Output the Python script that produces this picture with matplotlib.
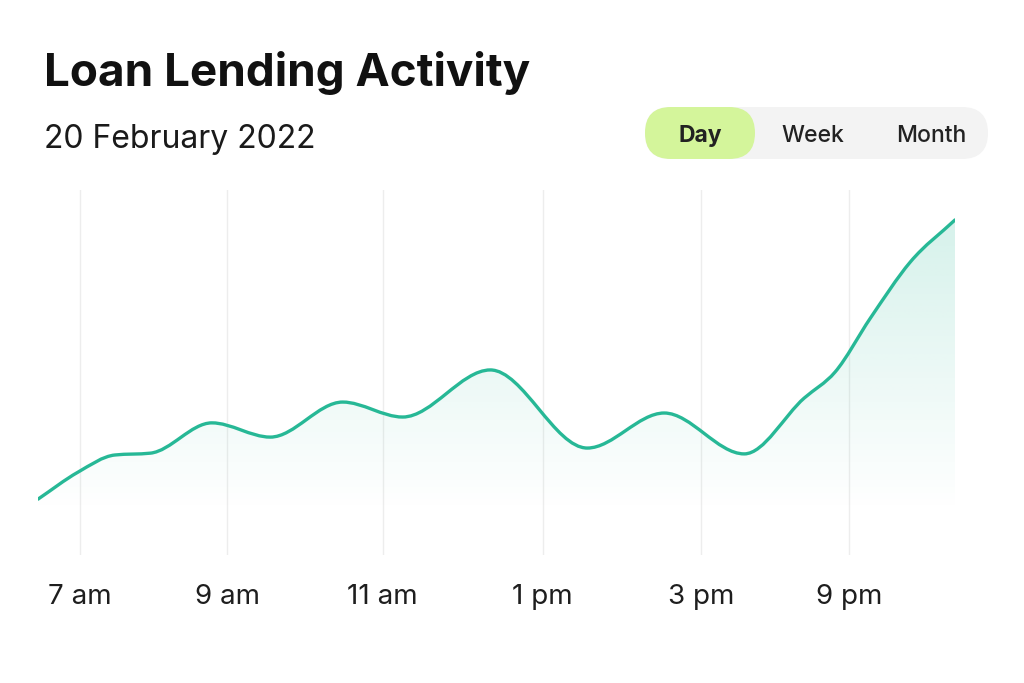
import matplotlib
matplotlib.use("Agg")
import matplotlib.pyplot as plt
import numpy as np
from matplotlib.path import Path
from matplotlib.patches import PathPatch, FancyBboxPatch

plt.rcParams['font.family'] = ['Inter', 'DejaVu Sans']

# data: position along the axis (tick index units) and activity level
x = [-0.27, -0.01, 0.23, 0.46, 0.86, 1.24, 1.71, 2.10, 2.67, 3.30, 3.80,
     4.32, 4.71, 4.91, 5.14, 5.40, 5.69]
activity = [15.3, 22.7, 27.4, 27.9, 36.2, 32.3, 41.9, 37.8, 50.7, 29.3, 38.9,
            27.7, 43.0, 50.1, 64.9, 80.3, 91.8]
tick_x = [0, 0.96, 1.97, 3.01, 4.04, 5.0]
tick_labels = ['7 am', '9 am', '11 am', '1 pm', '3 pm', '9 pm']
title = 'Loan Lending Activity'
subtitle = '20 February 2022'
periods = ['Day', 'Week', 'Month']

line_color = '#27b896'

W, H = 1024, 683
fig = plt.figure(figsize=(W / 100, H / 100), dpi=100)
fig.patch.set_facecolor('white')

ax = fig.add_axes([38 / W, (H - 555) / H, 917 / W, 365 / H])
ax.set_xlim(x[0], x[-1])
ax.set_ylim(0, 100)
for s in ax.spines.values():
    s.set_visible(False)
ax.set_yticks([])
ax.set_xticks(tick_x)
ax.set_xticklabels(tick_labels, fontsize=20, color='#1e1e1e')
ax.tick_params(axis='x', length=0, pad=21)
for tx in tick_x:
    ax.axvline(tx, color='#ededed', lw=1.0, zorder=0)

# monotone cubic curve through the points, drawn as Bezier segments
px = np.array(x, dtype=float)
py = np.array(activity, dtype=float)
h = np.diff(px)
sl = np.diff(py) / h
m = np.zeros_like(px)
m[0], m[-1] = sl[0], sl[-1]
for i in range(1, len(px) - 1):
    if sl[i - 1] * sl[i] > 0:
        p = (sl[i - 1] * h[i] + sl[i] * h[i - 1]) / (h[i - 1] + h[i])
        m[i] = np.sign(sl[i]) * 2 * min(abs(sl[i - 1]), abs(sl[i]), 0.5 * abs(p))
verts = [(px[0], py[0])]
codes = [Path.MOVETO]
for i in range(len(px) - 1):
    d = h[i] / 3
    verts += [(px[i] + d, py[i] + m[i] * d),
              (px[i + 1] - d, py[i + 1] - m[i + 1] * d),
              (px[i + 1], py[i + 1])]
    codes += [Path.CURVE4] * 3

line_path = Path(verts, codes)
ax.add_patch(PathPatch(line_path, fill=False, edgecolor=line_color, lw=2.4,
                       capstyle='round', zorder=3))

# gradient fill under the curve
fill_verts = verts + [(x[-1], 0), (x[0], 0), verts[0]]
fill_codes = codes + [Path.LINETO, Path.LINETO, Path.CLOSEPOLY]
clip = PathPatch(Path(fill_verts, fill_codes), facecolor='none', edgecolor='none')
ax.add_patch(clip)

ygrid = np.linspace(100, 0, 300)
alpha = np.clip((ygrid - 12) / 80, 0, None) * 0.19
rgba = np.zeros((300, 2, 4))
rgba[..., :3] = matplotlib.colors.to_rgb(line_color)
rgba[..., 3] = alpha[:, None]
im = ax.imshow(rgba, extent=(x[0], x[-1], 0, 100), aspect='auto', zorder=1,
               interpolation='bilinear')
im.set_clip_path(clip)

# header overlay in pixel coordinates
ov = fig.add_axes([0, 0, 1, 1], zorder=5)
ov.set_xlim(0, W)
ov.set_ylim(H, 0)
ov.axis('off')
ov.patch.set_alpha(0)

ov.text(44, 86, title, fontsize=33, fontweight='bold', color='#111111', va='baseline')
ov.text(44, 148, subtitle, fontsize=23, color='#1a1a1a', va='baseline')

ov.add_patch(FancyBboxPatch((645, 107), 343, 52,
                            boxstyle='round,pad=0,rounding_size=26',
                            facecolor='#f3f3f3', edgecolor='none'))
ov.add_patch(FancyBboxPatch((645, 107), 110, 52,
                            boxstyle='round,pad=0,rounding_size=26',
                            facecolor='#d4f59b', edgecolor='none'))
centers = [700, 813, 931]
for lab, cx in zip(periods, centers):
    ov.text(cx, 142, lab, fontsize=16.5, ha='center', va='baseline', color='#222222',
            fontweight='bold' if lab == 'Day' else 500)

fig.savefig('out.png', dpi=100, facecolor='white')
